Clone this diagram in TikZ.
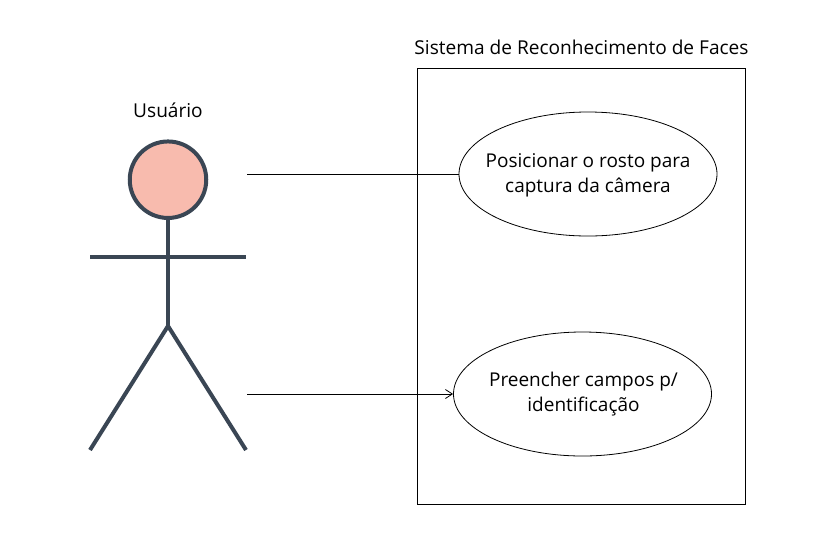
\documentclass[tikz,border=0pt]{standalone}
\usepackage{fontspec}
\setmainfont{Open Sans}
\usetikzlibrary{arrows.meta,shapes.geometric}
\definecolor{actorc}{HTML}{3A4654}
\definecolor{headc}{HTML}{F8BBAE}
\tikzset{x=1pt,y=-1pt,
 actorline/.style={draw=actorc,line width=4pt},
 uc/.style={draw=black,fill=white,line width=0.8pt,ellipse,minimum width=258pt,minimum height=124pt,inner sep=0pt},
 uctext/.style={align=center,font=\fontsize{19}{25}\selectfont,inner sep=0pt,text=black},
 lbl/.style={font=\fontsize{19.1}{22}\selectfont,text=black,inner sep=0pt},
 conn/.style={draw=black,line width=0.8pt}}
\begin{document}
\begin{tikzpicture}
\useasboundingbox (0,0) rectangle (835,547);
\node[draw=black,line width=0.8pt,minimum width=328pt,minimum height=436pt,inner sep=0pt] (sys) at (581.5,286) {};
\node[lbl] (systitle) at (581.5,47.5) {Sistema de Reconhecimento de Faces};
\node[lbl] (actortitle) at (168,110) {Usuário};
\node[uc] (a) at (588,174) {};
\node[uctext] (atext) at (588,175.5) {Posicionar o rosto para\\captura da câmera};
\node[uc] (b) at (582.5,394) {};
\node[uctext] (btext) at (583.5,394) {Preencher campos p/\\identificação};
\node[actorline,fill=headc,circle,minimum size=76.5pt,inner sep=0pt] (head) at (168,179.7) {};
\coordinate (neck) at (168,257);
\coordinate (hip) at (168,326);
\coordinate (la) at (90,257);
\coordinate (ra) at (246,257);
\coordinate (lf) at (90,450);
\coordinate (rf) at (246,450);
\draw[actorline] (head.south) -- (hip);
\draw[actorline] (la) -- (ra);
\draw[actorline] (lf) -- (hip) -- (rf);
\coordinate (s1) at (247,174);
\coordinate (s2) at (247,394);
\draw[conn] (s1) -- (a.west);
\draw[conn,-{Straight Barb[length=7pt,width=9pt]}] (s2) -- (b.west);
\end{tikzpicture}
\end{document}
